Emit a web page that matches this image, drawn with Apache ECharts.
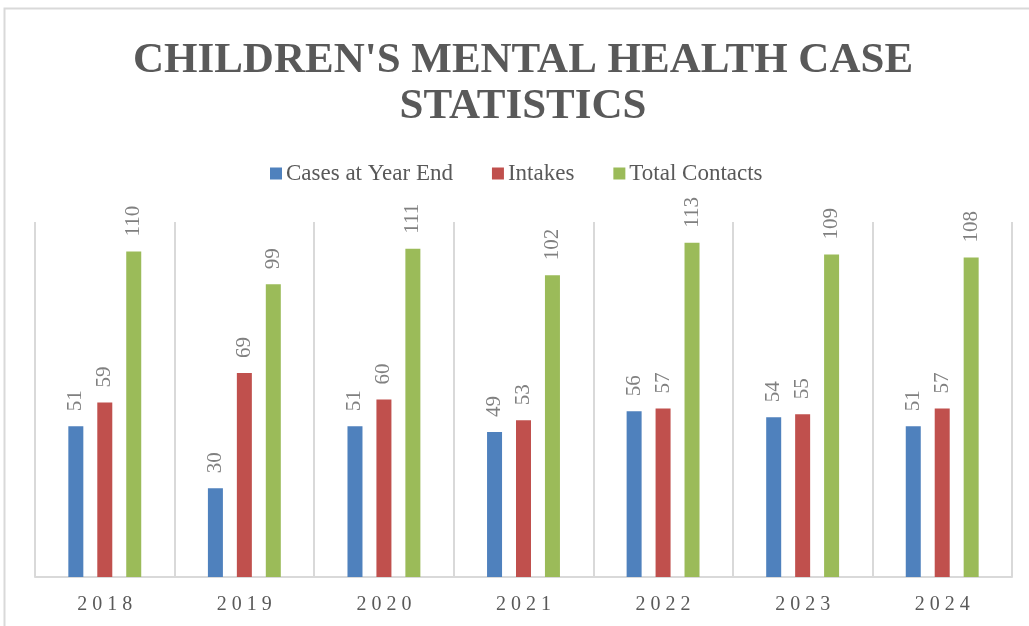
<!DOCTYPE html>
<html>
<head>
<meta charset="utf-8">
<script src="https://cdn.jsdelivr.net/npm/echarts@6/dist/echarts.min.js"></script>
<style>
  html, body { margin: 0; padding: 0; background: #fff; }
  #chart { width: 1029px; height: 626px; }
</style>
</head>
<body>
<div id="chart"></div>
<script>
// data
const years = ['2018', '2019', '2020', '2021', '2022', '2023', '2024']
const casesAtYearEnd = [51, 30, 51, 49, 56, 54, 51]
const intakes = [59, 69, 60, 53, 57, 55, 57]
const totalContacts = [110, 99, 111, 102, 113, 109, 108]

const serif = '"Liberation Serif", "DejaVu Serif", serif'

const chart = echarts.init(document.getElementById('chart'))

// shared style for the rotated value labels
const valueLabel = {
  show: true,
  position: 'top',
  rotate: 90,
  align: 'left',
  verticalAlign: 'middle',
  distance: 15,
  color: '#808080',
  fontFamily: serif,
  fontSize: 21,
}

function makeSeries(name, data, color) {
  return {
    name: name,
    type: 'bar',
    data: data,
    barWidth: 15,
    barGap: '93%',
    itemStyle: { color: color },
    label: valueLabel,
  }
}

const option = {
  animation: false,
  backgroundColor: '#fff',
  // outer frame of the chart area
  graphic: [
    {
      type: 'rect',
      shape: { x: 4.5, y: 8.5, width: 1100, height: 700 },
      style: { fill: 'none', stroke: '#d9d9d9', lineWidth: 2 },
      silent: true,
    },
  ],
  title: {
    text: "CHILDREN'S MENTAL HEALTH CASE\nSTATISTICS",
    left: 518,
    textAlign: 'center',
    top: 33,
    textStyle: {
      fontFamily: serif,
      fontWeight: 'bold',
      fontSize: 43,
      lineHeight: 46,
      color: '#595959',
    },
  },
  legend: {
    top: 157,
    left: 265,
    itemWidth: 12,
    itemHeight: 12,
    itemGap: 39,
    icon: 'rect',
    textStyle: {
      fontFamily: serif,
      fontSize: 23,
      color: '#595959',
      padding: [0, 0, 0, -1],
    },
    data: ['Cases at Year End', 'Intakes', 'Total Contacts'],
  },
  grid: {
    left: 35,
    right: 17,
    top: 222,
    bottom: 49,
  },
  xAxis: {
    type: 'category',
    data: years,
    axisLine: { lineStyle: { color: '#d9d9d9', width: 2 } },
    axisTick: { show: false },
    splitLine: { show: true, lineStyle: { color: '#d9d9d9', width: 2 } },
    axisLabel: {
      margin: 18,
      fontFamily: serif,
      fontSize: 20,
      color: '#595959',
      formatter: (v) => v.split('').join(' '),
    },
  },
  yAxis: {
    type: 'value',
    min: 0,
    max: 120,
    show: false,
    splitLine: { show: false },
  },
  series: [
    makeSeries('Cases at Year End', casesAtYearEnd, '#4f81bd'),
    makeSeries('Intakes', intakes, '#c0504d'),
    makeSeries('Total Contacts', totalContacts, '#9bbb59'),
  ],
}

chart.setOption(option)
</script>
</body>
</html>
